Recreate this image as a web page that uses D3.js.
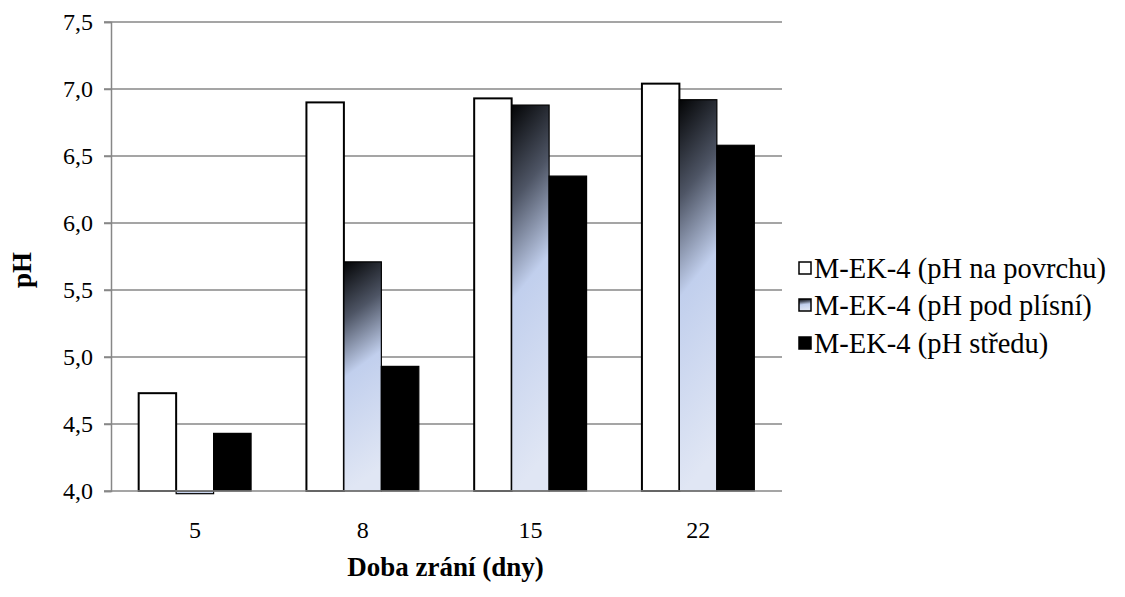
<!DOCTYPE html>
<html>
<head>
<meta charset="utf-8">
<script src="https://cdn.jsdelivr.net/npm/d3@7/dist/d3.min.js"></script>
<style>
  html, body { margin: 0; padding: 0; background: #fff; }
  svg { display: block; }
</style>
</head>
<body>
<svg id="chart" width="1125" height="597"></svg>
<script>
const categories = ["5", "8", "15", "22"];
const seriesNames = ["M-EK-4 (pH na povrchu)", "M-EK-4 (pH pod plísní)", "M-EK-4 (pH středu)"];
const surface = [4.73, 6.90, 6.93, 7.04];
const underMold = [3.98, 5.71, 6.88, 6.92];
const center = [4.43, 4.93, 6.35, 6.58];
const yTicks = [4.0, 4.5, 5.0, 5.5, 6.0, 6.5, 7.0, 7.5];
const xTitle = "Doba zrání (dny)";
const yTitle = "pH";

const series = [surface, underMold, center];
const FONT = "'Liberation Serif', 'Times New Roman', Times, serif";

const svg = d3.select("#chart");
const plotLeft = 111, plotRight = 782, plotTop = 22, plotBottom = 491;

const defs = svg.append("defs");
const grad = defs.append("linearGradient").attr("id", "grad")
  .attr("x1", 0).attr("y1", 0).attr("x2", 0.12).attr("y2", 1);
[[0, "#030405"], [0.25, "#4e5565"], [0.5, "#c1cfed"], [1, "#e0e6f4"]].forEach(([o, c]) =>
  grad.append("stop").attr("offset", o).attr("stop-color", c));

const fills = ["#ffffff", "url(#grad)", "#000000"];

const y = d3.scaleLinear().domain([4, 7.5]).range([plotBottom, plotTop]);
const x0 = d3.scaleBand().domain(categories).range([plotLeft, plotRight]).paddingInner(0.33).paddingOuter(0.165);
const x1 = d3.scaleBand().domain(d3.range(series.length)).range([0, x0.bandwidth()]);

// gridlines
const grid = svg.append("g");
grid.selectAll("line").data(yTicks.slice(1)).join("line")
  .attr("x1", plotLeft - 7).attr("x2", plotRight)
  .attr("y1", d => y(d)).attr("y2", d => y(d))
  .attr("stroke", "#878787").attr("stroke-width", 1.5);

// bars
const groups = svg.append("g").selectAll("g").data(categories).join("g")
  .attr("transform", d => `translate(${x0(d)},0)`);
groups.selectAll("rect").data((c, ci) => series.map((s, si) => ({si, v: s[ci]}))).join("rect")
  .attr("x", d => x1(d.si))
  .attr("width", x1.bandwidth())
  .attr("y", d => Math.min(y(d.v), y(4)))
  .attr("height", d => Math.abs(y(4) - y(d.v)))
  .attr("fill", d => fills[d.si])
  .attr("stroke", "#000")
  .attr("stroke-width", d => d.si === 0 ? 2 : 1.2);

// y axis
const yAxis = d3.axisLeft(y).tickValues(yTicks).tickSize(7).tickPadding(11)
  .tickFormat(d => d3.format(".1f")(d).replace(".", ","));
const ya = svg.append("g").attr("transform", `translate(${plotLeft},0)`).call(yAxis);
ya.attr("font-family", null).attr("font-size", null);
ya.select(".domain").attr("stroke", "#878787").attr("stroke-width", 1.5);
ya.selectAll(".tick line").attr("stroke", "#878787").attr("stroke-width", 1.5);
ya.selectAll(".tick text").style("font-family", FONT).style("font-size", "24px").attr("fill", "#000");

// x axis
const xAxis = d3.axisBottom(x0).tickSize(0).tickPadding(30);
const xa = svg.append("g").attr("transform", `translate(0,${plotBottom})`).call(xAxis);
xa.attr("font-family", null).attr("font-size", null);
xa.select(".domain").attr("stroke", "#878787").attr("stroke-width", 1.5).attr("d", `M${plotLeft - 7},0H${plotRight}`);
xa.selectAll(".tick text").style("font-family", FONT).style("font-size", "24px").attr("fill", "#000");

// titles
svg.append("text").attr("x", (plotLeft + plotRight) / 2 - 1).attr("y", 576)
  .attr("text-anchor", "middle").style("font-family", FONT).style("font-size", "27px")
  .style("font-weight", "bold").text(xTitle);
svg.append("text").attr("transform", "translate(31,270) rotate(-90)")
  .attr("text-anchor", "middle").style("font-family", FONT).style("font-size", "27px")
  .style("font-weight", "bold").text(yTitle);

// legend
const legend = svg.append("g").attr("transform", "translate(799,0)");
const legY = [268, 305, 343];
const li = legend.selectAll("g").data(seriesNames).join("g")
  .attr("transform", (d, i) => `translate(0,${legY[i]})`);
li.append("rect").attr("x", 0).attr("y", -6).attr("width", 12).attr("height", 12)
  .attr("fill", (d, i) => fills[i]).attr("stroke", "#000").attr("stroke-width", 1.5);
li.append("text").attr("x", 15).attr("y", 0).attr("dy", "0.35em")
  .style("font-family", FONT).style("font-size", "28.5px").text(d => d);
</script>
</body>
</html>
